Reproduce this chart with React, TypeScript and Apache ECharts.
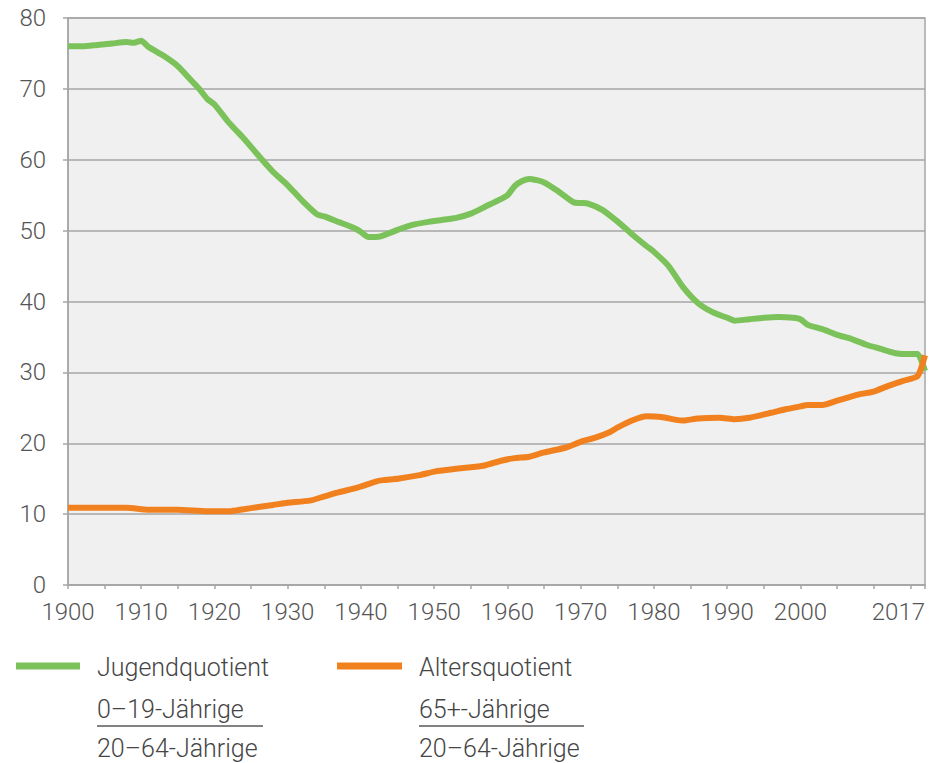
import React, { useEffect, useRef } from "react";
import * as echarts from "echarts";

const youthYears = [1900,1902,1904,1906,1908,1909,1910,1911,1913,1915,1917,1918,1919,1920,1922,1924,1926,1928,1930,1932,1934,1935,1937,1939,1940,1941,1942,1943,1945,1947,1949,1951,1953,1955,1957,1959,1960,1961,1962,1963,1965,1967,1969,1970,1971,1973,1975,1977,1979,1980,1982,1984,1986,1988,1990,1991,1993,1995,1997,1999,2000,2001,2003,2005,2007,2009,2011,2013,2014,2015,2016,2017];
const youthValues = [76.0,76.0,76.2,76.4,76.6,76.5,76.8,75.9,74.7,73.2,71.0,69.9,68.6,67.8,65.2,63.0,60.6,58.3,56.4,54.2,52.3,52.0,51.2,50.4,49.8,49.1,49.1,49.3,50.1,50.8,51.2,51.5,51.8,52.4,53.4,54.4,55.0,56.3,57.0,57.3,56.8,55.5,54.0,53.9,53.8,52.9,51.3,49.5,47.8,47.0,45.0,42.0,39.8,38.5,37.7,37.3,37.5,37.7,37.8,37.7,37.5,36.7,36.1,35.3,34.7,33.9,33.3,32.7,32.6,32.6,32.6,30.2];

const oldYears = [1900,1905,1908,1911,1915,1919,1922,1924,1926,1928,1930,1933,1935,1937,1939,1940,1942,1943,1945,1948,1950,1953,1955,1957,1959,1961,1963,1965,1968,1970,1972,1974,1975,1977,1979,1981,1983,1984,1986,1989,1991,1993,1996,1998,2000,2001,2003,2005,2008,2010,2012,2014,2016,2017];
const oldValues = [10.9,10.9,10.9,10.6,10.6,10.4,10.4,10.7,11.0,11.3,11.6,11.9,12.5,13.1,13.6,13.9,14.6,14.8,15.0,15.5,16.0,16.4,16.6,16.9,17.5,17.9,18.1,18.7,19.4,20.2,20.8,21.6,22.2,23.2,23.8,23.7,23.3,23.2,23.5,23.6,23.4,23.6,24.3,24.8,25.2,25.4,25.4,26.0,26.9,27.3,28.1,28.8,29.5,32.4];

const decadeLabels = [1900,1910,1920,1930,1940,1950,1960,1970,1980,1990,2000,2017];

const GREEN = "#7cc25b";
const ORANGE = "#f1811f";
const FONT = "Roboto";
const TEXT = "#454545";
const GRID = "#a6a6a6";

export default function App() {
  const ref = useRef<HTMLDivElement>(null);
  useEffect(() => {
    const chart = echarts.init(ref.current!, null, { renderer: "svg" });
    const legendText = (text: string, x: number, y: number) => ({
      type: "text",
      x,
      y,
      style: { text, fill: TEXT, font: `300 25px ${FONT}`, textVerticalAlign: "middle" },
    });
    chart.setOption({
      animation: false,
      backgroundColor: "#ffffff",
      textStyle: { fontFamily: FONT },
      grid: {
        left: 68,
        right: 8,
        top: 18,
        bottom: 178,
        show: true,
        backgroundColor: "#f0f0f0",
        borderColor: GRID,
        borderWidth: 1.5,
      },
      xAxis: {
        type: "value",
        min: 1900,
        max: 2017,
        interval: 5,
        axisLine: { show: true, lineStyle: { color: GRID, width: 1.5 } },
        axisTick: { show: true, length: 4, lineStyle: { color: GRID, width: 1.5 } },
        splitLine: { show: false },
        axisLabel: {
          margin: 15,
          color: "#555555",
          fontFamily: FONT,
          fontWeight: 300,
          fontSize: 24,
          showMaxLabel: true,
          alignMaxLabel: "right",
          formatter: (v: number) => (decadeLabels.includes(v) ? String(v) : ""),
        },
      },
      yAxis: {
        type: "value",
        min: 0,
        max: 80,
        interval: 10,
        axisLine: { show: true, lineStyle: { color: GRID, width: 1.5 } },
        axisTick: { show: true, length: 5, lineStyle: { color: GRID, width: 1.5 } },
        splitLine: { show: true, lineStyle: { color: GRID, width: 1.5 } },
        axisLabel: {
          margin: 22,
          color: "#555555",
          fontFamily: FONT,
          fontWeight: 300,
          fontSize: 24,
        },
      },
      series: [
        {
          name: "Jugendquotient",
          type: "line",
          data: youthYears.map((y, i) => [y, youthValues[i]]),
          showSymbol: false,
          smooth: 0.2,
          lineStyle: { color: GREEN, width: 6 },
          itemStyle: { color: GREEN },
          z: 3,
        },
        {
          name: "Altersquotient",
          type: "line",
          data: oldYears.map((y, i) => [y, oldValues[i]]),
          showSymbol: false,
          smooth: 0.2,
          lineStyle: { color: ORANGE, width: 6 },
          itemStyle: { color: ORANGE },
          z: 4,
        },
      ],
      graphic: [
        { type: "line", shape: { x1: 16, y1: 666, x2: 80, y2: 666 }, style: { stroke: GREEN, lineWidth: 7 } },
        legendText("Jugendquotient", 97, 667),
        legendText("0–19-Jährige", 97, 709),
        { type: "line", shape: { x1: 97, y1: 726, x2: 263, y2: 726 }, style: { stroke: "#595959", lineWidth: 1.5 } },
        legendText("20–64-Jährige", 97, 748),
        { type: "line", shape: { x1: 337, y1: 666, x2: 402, y2: 666 }, style: { stroke: ORANGE, lineWidth: 7 } },
        legendText("Altersquotient", 419, 667),
        legendText("65+-Jährige", 419, 709),
        { type: "line", shape: { x1: 419, y1: 726, x2: 584, y2: 726 }, style: { stroke: "#595959", lineWidth: 1.5 } },
        legendText("20–64-Jährige", 419, 748),
      ],
    });
    return () => chart.dispose();
  }, []);
  return (
    <div
      ref={ref}
      style={{ position: "absolute", left: 0, top: 0, width: 933, height: 763 }}
    />
  );
}
